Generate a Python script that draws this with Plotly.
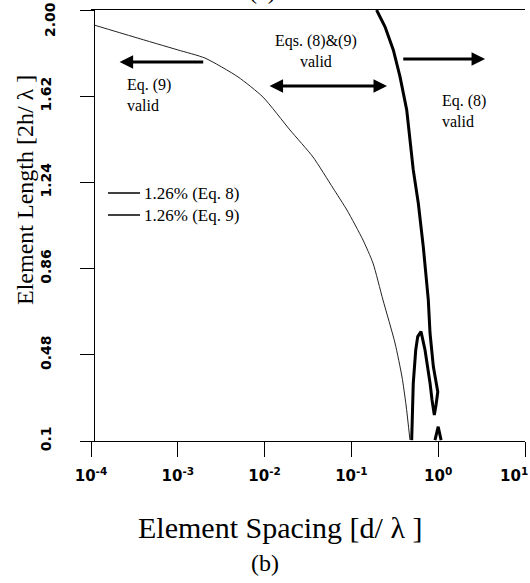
import plotly.graph_objects as go

# ---- data ----
# Eq. (9) curve (thin): element spacing d/lambda and element length 2h/lambda
eq9_spacing = [1.08e-4, 3.13e-4, 1.00e-3, 2.06e-3, 4.94e-3, 9.59e-3, 1.96e-2, 3.61e-2,
               6.14e-2, 8.89e-2, 0.136, 0.177, 0.231, 0.318, 0.383, 0.426, 0.473]
eq9_length = [1.934, 1.881, 1.824, 1.788, 1.705, 1.616, 1.471, 1.352,
              1.215, 1.118, 0.986, 0.885, 0.722, 0.532, 0.382, 0.259, 0.104]

# Eq. (8) curve (thick): contour traced in order, then the small bump near 1.0
eq8_spacing = [0.195, 0.244, 0.304, 0.363, 0.434, 0.516, 0.590, 0.673, 0.769, 0.805,
               0.879, 0.962, 0.989, 0.944, 0.902, 0.849, 0.805, 0.705, 0.634, 0.581,
               0.551, 0.516, 0.495, None, 0.918, 1.00, 1.08]
eq8_length = [2.000, 1.926, 1.824, 1.706, 1.559, 1.295, 1.148, 0.957, 0.722, 0.576,
              0.428, 0.339, 0.317, 0.259, 0.215, 0.281, 0.356, 0.501, 0.582, 0.560,
              0.501, 0.354, 0.104, None, 0.104, 0.163, 0.104]

series_names = ["1.26% (Eq. 8)", "1.26% (Eq. 9)"]

x_tickvals = [1e-4, 1e-3, 1e-2, 1e-1, 1e0, 1e1]
x_ticktext = ["10<sup>-4</sup>", "10<sup>-3</sup>", "10<sup>-2</sup>",
              "10<sup>-1</sup>", "10<sup>0</sup>", "10<sup>1</sup>"]
y_tickvals = [0.1, 0.48, 0.86, 1.24, 1.62, 2.00]
y_ticktext = ["0.1", "0.48", "0.86", "1.24", "1.62", "2.00"]

# validity region arrows (log10 of d/lambda, element length)
arrow_eq9 = dict(head=-3.67, tail=-2.69, y=1.771)
arrow_both = dict(left=-1.96, right=-0.59, y=1.665)
arrow_eq8 = dict(tail=-0.42, head=0.54, y=1.784)

serif = "Liberation Serif, Times New Roman, serif"
sans_bold = "DejaVu Sans, Arial, sans-serif"


def px_x(px):
    return (px - 91) / 434.0


def px_y(py):
    return (441 - py) / 431.0


fig = go.Figure()
fig.add_trace(go.Scatter(x=eq8_spacing, y=eq8_length, mode="lines", name=series_names[0],
                         line=dict(color="black", width=3), connectgaps=False,
                         showlegend=False))
fig.add_trace(go.Scatter(x=eq9_spacing, y=eq9_length, mode="lines", name=series_names[1],
                         line=dict(color="#222222", width=1, shape="spline", smoothing=0.6),
                         showlegend=False))

ann = []
# arrows
ann.append(dict(x=arrow_eq9["head"], y=arrow_eq9["y"], ax=arrow_eq9["tail"], ay=arrow_eq9["y"],
                xref="x", yref="y", axref="x", ayref="y", showarrow=True, text="",
                arrowhead=2, arrowsize=0.9, arrowwidth=3, arrowcolor="black"))
ann.append(dict(x=arrow_both["right"], y=arrow_both["y"], ax=arrow_both["left"], ay=arrow_both["y"],
                xref="x", yref="y", axref="x", ayref="y", showarrow=True, text="",
                arrowhead=2, startarrowhead=2, arrowside="end+start", arrowsize=0.9,
                startarrowsize=0.9, arrowwidth=3, arrowcolor="black"))
ann.append(dict(x=arrow_eq8["head"], y=arrow_eq8["y"], ax=arrow_eq8["tail"], ay=arrow_eq8["y"],
                xref="x", yref="y", axref="x", ayref="y", showarrow=True, text="",
                arrowhead=2, arrowsize=0.9, arrowwidth=3, arrowcolor="black"))

tf = dict(family=serif, size=16, color="black")
# region labels (log10 x)
ann.append(dict(x=-3.608, y=1.625, xref="x", yref="y", text="Eq. (9)<br>valid", showarrow=False,
                xanchor="left", yanchor="middle", align="left", font=tf))
ann.append(dict(x=-1.408, y=1.819, xref="x", yref="y", text="Eqs. (8)&amp;(9)<br>valid",
                showarrow=False, xanchor="center", yanchor="middle", align="center", font=tf))
ann.append(dict(x=0.021, y=1.553, xref="x", yref="y", text="Eq. (8)<br>valid", showarrow=False,
                xanchor="left", yanchor="middle", align="left", font=tf))

# legend (drawn by hand to match the original's placement)
ann.append(dict(x=px_x(142), y=px_y(204), xref="paper", yref="paper",
                text=series_names[0] + "<br>" + series_names[1], showarrow=False,
                xanchor="left", yanchor="middle", align="left",
                font=dict(family=serif, size=17, color="black")))
shapes = [
    dict(type="line", xref="paper", yref="paper", x0=px_x(108), x1=px_x(140),
         y0=px_y(193), y1=px_y(193), line=dict(color="black", width=1.5)),
    dict(type="line", xref="paper", yref="paper", x0=px_x(108), x1=px_x(140),
         y0=px_y(215), y1=px_y(215), line=dict(color="black", width=1.5)),
]

# edge tick labels placed by hand (the axis would hide them at the page edge)
ann.append(dict(x=px_x(50), y=px_y(20), xref="paper", yref="paper", text=y_ticktext[-1],
                showarrow=False, textangle=-90, xanchor="center", yanchor="middle",
                font=dict(family=sans_bold, size=14, color="black", weight=700)))
ann.append(dict(x=px_x(530), y=px_y(475), xref="paper", yref="paper", text=x_ticktext[-1],
                showarrow=False, xanchor="right", yanchor="middle",
                font=dict(family=sans_bold, size=15, color="black", weight=700)))

# axis titles and captions (paper coords)
ann.append(dict(x=px_x(280), y=px_y(527), xref="paper", yref="paper",
                text="Element Spacing [d/ λ ]", showarrow=False, xanchor="center",
                yanchor="middle", font=dict(family=serif, size=30, color="black")))
ann.append(dict(x=px_x(265), y=px_y(563), xref="paper", yref="paper",
                text="(b)", showarrow=False, xanchor="center",
                yanchor="middle", font=dict(family=serif, size=24, color="black")))
ann.append(dict(x=px_x(262), y=px_y(-9), xref="paper", yref="paper",
                text="(a)", showarrow=False, xanchor="center",
                yanchor="middle", font=dict(family=serif, size=24, color="black")))
ann.append(dict(x=px_x(25), y=px_y(190), xref="paper", yref="paper",
                text="Element Length [2h/ λ ]", showarrow=False, textangle=-90,
                xanchor="center", yanchor="middle",
                font=dict(family=serif, size=24, color="black")))

y_ticktext_axis = [t if v != 2.00 else "" for t, v in zip(y_ticktext, y_tickvals)]
x_ticktext_axis = [t if v != 10 else "" for t, v in zip(x_ticktext, x_tickvals)]

fig.update_layout(
    width=530, height=583,
    margin=dict(l=91, r=5, t=10, b=142),
    paper_bgcolor="white", plot_bgcolor="white",
    annotations=ann, shapes=shapes,
    showlegend=False,
    xaxis=dict(type="log", range=[-4, 1], tickvals=x_tickvals, ticktext=x_ticktext_axis,
               ticks="outside", ticklen=15, tickwidth=1, tickcolor="black",
               showline=True, linecolor="black", linewidth=1, mirror=True,
               showgrid=False, zeroline=False, ticklabelstandoff=6,
               tickfont=dict(family=sans_bold, size=15, color="black", weight=700)),
    yaxis=dict(range=[0.1, 2.0], tickvals=y_tickvals, ticktext=y_ticktext_axis,
               anchor="free", position=0.007,
               tickangle=-90, ticks="outside", ticklen=14, tickwidth=1, tickcolor="black",
               showline=True, linecolor="black", linewidth=1, mirror=True,
               showgrid=False, zeroline=False, ticklabelstandoff=23,
               tickfont=dict(family=sans_bold, size=14, color="black", weight=700)),
)

fig.write_html("out.html")
